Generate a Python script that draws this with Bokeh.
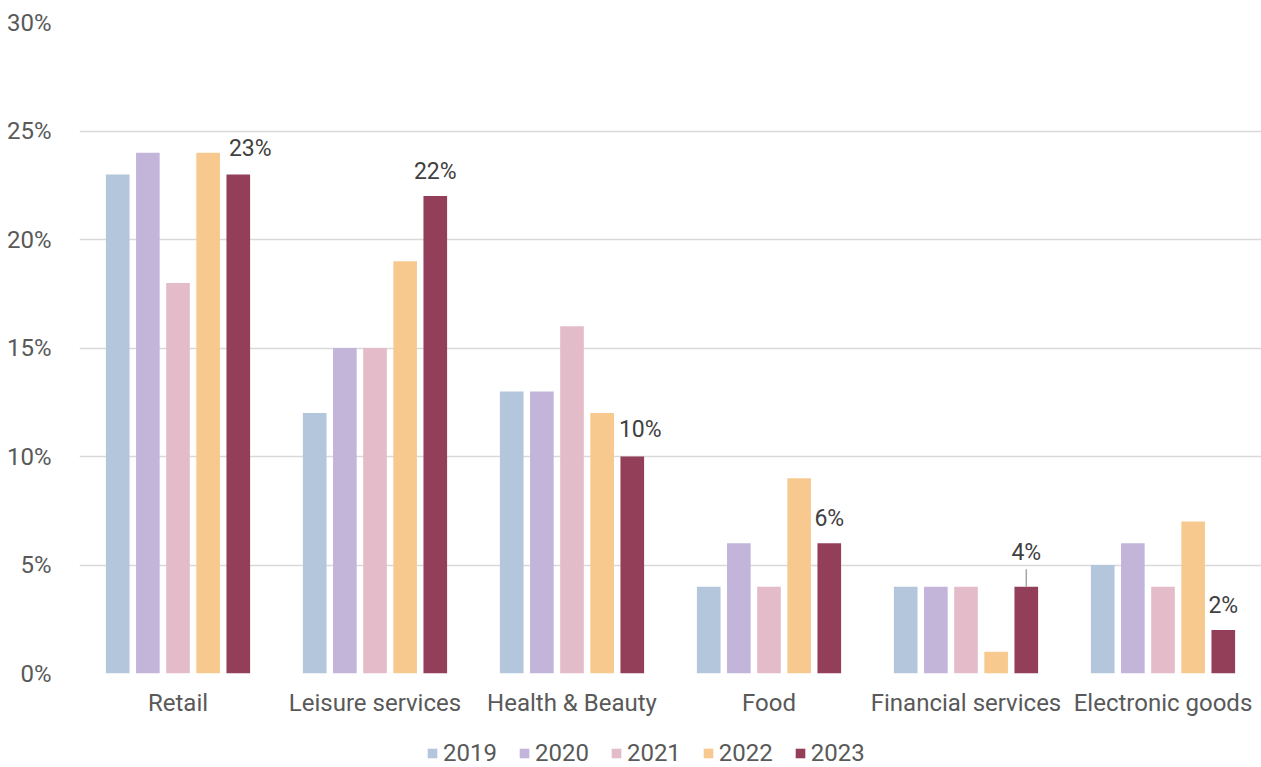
from bokeh.plotting import figure
from bokeh.layouts import column
from bokeh.models import (ColumnDataSource, FactorRange, Range1d, PrintfTickFormatter,
                          Legend, LegendItem, FixedTicker)
from bokeh.transform import dodge
from bokeh.core.properties import value
from bokeh.embed import file_html
from bokeh.resources import INLINE

categories = ["Retail", "Leisure services", "Health & Beauty", "Food",
              "Financial services", "Electronic goods"]
years = ["2019", "2020", "2021", "2022", "2023"]
v2019 = [23, 12, 13, 4, 4, 5]
v2020 = [24, 15, 13, 6, 4, 6]
v2021 = [18, 15, 16, 4, 4, 4]
v2022 = [24, 19, 12, 9, 1, 7]
v2023 = [23, 22, 10, 6, 4, 2]
y_ticks = [0, 5, 10, 15, 20, 25, 30]

colors = ["#B3C6DB", "#C3B5DA", "#E4BCC9", "#F7C98F", "#943F5A"]
FONT = "Roboto"

src = ColumnDataSource(dict(cat=categories, v2019=v2019, v2020=v2020, v2021=v2021,
                            v2022=v2022, v2023=v2023))

p = figure(x_range=FactorRange(*categories, range_padding=0),
           y_range=Range1d(0, 30),
           width=1261, height=726, output_backend="svg", toolbar_location=None,
           min_border_left=79, min_border_right=0, min_border_top=22, min_border_bottom=53)
p.outline_line_color = None
p.background_fill_color = "white"

stride = 0.153
bw = 0.12
for i, (yr, col) in enumerate(zip(years, colors)):
    p.vbar(x=dodge("cat", (i - 2) * stride, range=p.x_range), top="v" + yr,
           width=bw, source=src, fill_color=col, line_color=None)

# data labels for 2023 (pixel offsets are styles)
x_off = [12, 0, 8, 0, 0, 0]
y_off = [-26, -25, -27, -25, -34, -25]
lsrc = ColumnDataSource(dict(cat=categories, val=v2023,
                             lab=[f"{v}%" for v in v2023], xo=x_off, yo=y_off))
p.text(x=dodge("cat", 2 * stride, range=p.x_range), y="val", text="lab",
       x_offset="xo", y_offset="yo", source=lsrc,
       text_font=value(FONT), text_font_size="23px", text_color="#404040",
       text_align="center", text_baseline="middle")

# leader line for Financial services label
fi = categories.index("Financial services")
seg_src = ColumnDataSource(dict(cat=[categories[fi]], y0=[v2023[fi]], y1=[v2023[fi] + 0.8]))
p.segment(x0=dodge("cat", 2 * stride, range=p.x_range), y0="y0",
          x1=dodge("cat", 2 * stride, range=p.x_range), y1="y1",
          source=seg_src, line_color="#A6A6A6", line_width=1.5)

p.xgrid.grid_line_color = None
p.ygrid.grid_line_color = "#D9D9D9"
p.ygrid.grid_line_width = 1.5
p.yaxis.ticker = FixedTicker(ticks=y_ticks)
p.yaxis.formatter = PrintfTickFormatter(format="%d%%")
for ax in (p.xaxis[0], p.yaxis[0]):
    ax.axis_line_color = None
    ax.major_tick_line_color = None
    ax.minor_tick_line_color = None
    ax.major_label_text_font = FONT
    ax.major_label_text_font_size = "24px"
    ax.major_label_text_color = "#595959"
p.yaxis.major_label_standoff = 22
p.xaxis.major_label_standoff = 9

# legend strip
lf = figure(width=1261, height=41, output_backend="svg", toolbar_location=None,
            x_range=Range1d(0, 1), y_range=Range1d(0, 1),
            x_axis_type=None, y_axis_type=None,
            min_border_left=0, min_border_right=0, min_border_top=0, min_border_bottom=0)
lf.grid.grid_line_color = None
lf.outline_line_color = None
lf.border_fill_color = "white"
items = []
for yr, col in zip(years, colors):
    r = lf.vbar(x=[0.5], top=[0], bottom=[0], width=0.0, fill_color=col, line_color=None)
    items.append(LegendItem(label=yr, renderers=[r]))
legend = Legend(items=items, orientation="horizontal", location=(347, 0),
                label_text_font=FONT, label_text_font_size="24px",
                label_text_color="#595959", glyph_width=12, glyph_height=12,
                spacing=21, label_standoff=5, border_line_color=None,
                background_fill_alpha=0, padding=0, margin=0, label_height=26)
lf.add_layout(legend, "center")

layout = column(p, lf, spacing=0)
open("out.html", "w").write(file_html(layout, INLINE))
